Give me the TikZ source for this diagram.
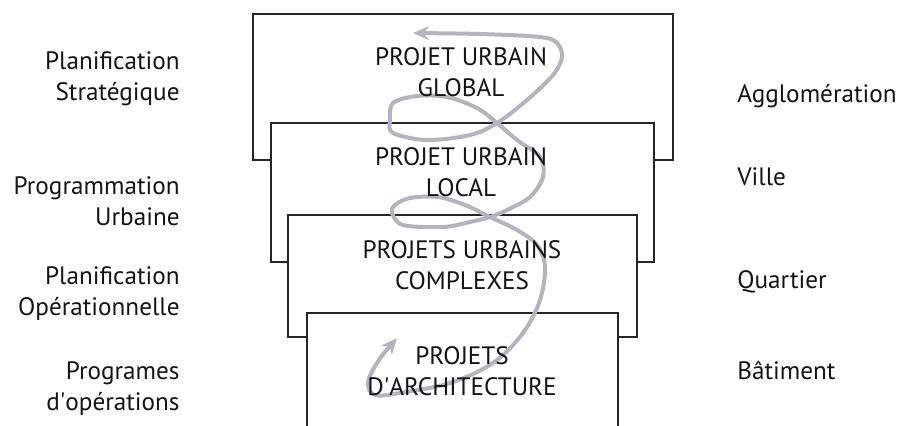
\documentclass[tikz,border=0pt]{standalone}
\usepackage{fontspec}
\setmainfont{PT Sans}
\usetikzlibrary{arrows.meta}
\definecolor{spiralgray}{RGB}{180,180,192}
\begin{document}
\begin{tikzpicture}[x=0.5pt,y=-0.5pt,
  every node/.style={inner sep=0pt,text=black!92,font=\fontsize{12.6}{15.8}\selectfont},
  box/.style={draw=black!85,fill=white,line width=1.3pt},
  spiral/.style={draw=spiralgray,line width=2pt,
    {Stealth[length=8pt,width=7pt]}-{Stealth[length=8pt,width=7pt]}}]
\useasboundingbox (0,0) rectangle (900,425);
\clip (0,0) rectangle (900,425);
\foreach \l/\t/\r/\b in {253/14/673/160,271/123/654/262,288/215/637/337,307/313/618/440}
  \draw[box] (\l,\t) rectangle (\r,\b);
\draw[spiral] plot[smooth,tension=0.55] coordinates {
  (397,338) (377,363) (368,383) (375,395) (400,393) (450,383) (493,363)
  (523,333) (540,300) (545,267) (537,245) (517,230) (490,217)
  (465,205) (438,197) (410,198) (395,205) (392,213) (403,225) (443,227)
  (470,222) (490,217) (507,210) (530,197) (543,177) (540,157) (517,140)
  (497,123) (477,108) (447,97) (417,96) (393,103) (390,120) (393,133)
  (427,140) (470,135) (497,123) (527,100) (553,75) (562,57) (557,43)
  (540,37) (480,34) (413,33)};
\node[anchor=north,align=center] (global) at (461,47) {PROJET URBAIN\\GLOBAL};
\node[anchor=north,align=center] (local) at (461,147) {PROJET URBAIN\\LOCAL};
\node[anchor=north,align=center] (complexes) at (462,240) {PROJETS URBAINS\\COMPLEXES};
\node[anchor=north,align=center] (archi) at (462,346) {PROJETS\\D\textquotesingle ARCHITECTURE};
\foreach \y/\n/\t in {51/strat/{Planification\\Stratégique},
    176/progurb/{Programmation\\Urbaine},
    266/planop/{Planification\\Opérationnelle},
    361/progop/{Programes\\d\textquotesingle opérations}}
  \node[anchor=north east,align=right] (\n) at (180,\y) {\t};
\foreach \y/\n/\t in {84/agglo/Agglomération,167/ville/Ville,270/quartier/Quartier,361/batiment/Bâtiment}
  \node[anchor=north west] (\n) at (737,\y) {\t};
\end{tikzpicture}
\end{document}
